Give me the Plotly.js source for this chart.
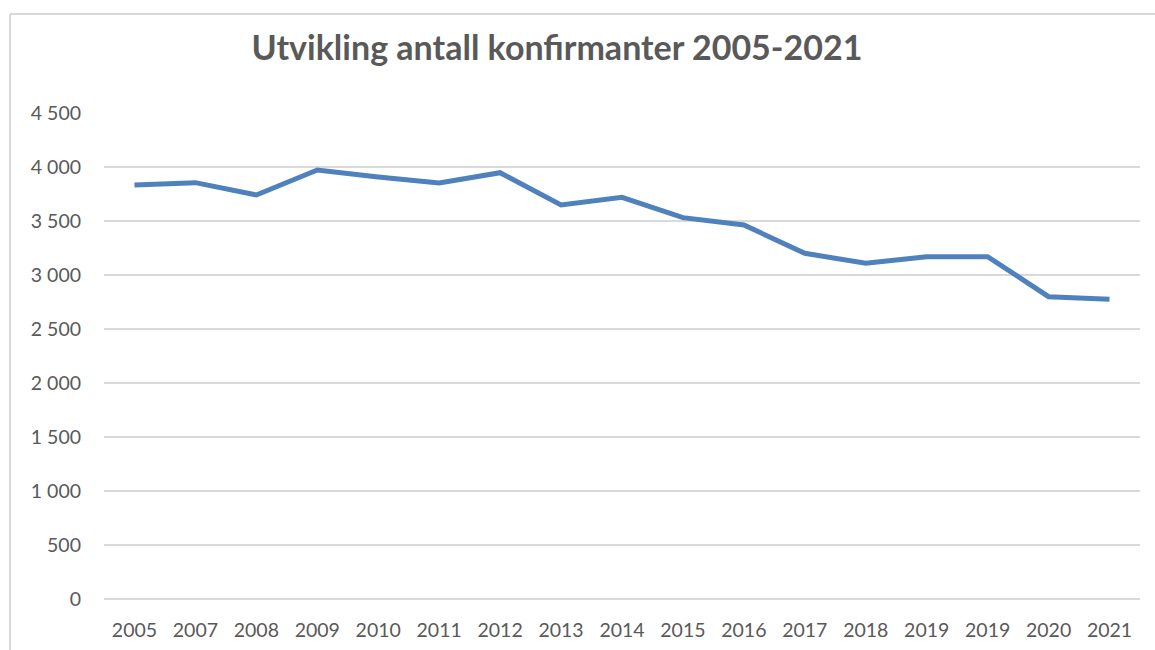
<!DOCTYPE html>
<html>
<head>
<meta charset="utf-8">
<script src="https://cdn.plot.ly/plotly-3.0.1.min.js"></script>
<style>
html,body{margin:0;padding:0;background:#fff;}
#chart{width:1155px;height:650px;}
</style>
</head>
<body>
<div id="chart"></div>
<script>
const years = ["2005","2007","2008","2009","2010","2011","2012","2013","2014","2015","2016","2017","2018","2019","2019","2020","2021"];
const confirmands = [3833,3855,3741,3972,3907,3852,3947,3648,3719,3531,3463,3201,3108,3170,3170,2799,2775];
const yTicks = [0,500,1000,1500,2000,2500,3000,3500,4000,4500];
const chartTitle = "Utvikling antall konfirmanter 2005-2021";

const positions = years.map((_, i) => i);

const trace = {
  x: positions,
  y: confirmands,
  type: 'scatter',
  mode: 'lines',
  line: {color: '#4F81BD', width: 5, shape: 'linear'},
  hoverinfo: 'x+y'
};

const L = 104, R = 1140, T = 113, B = 599, W = 1155, H = 650;
const pw = R - L, ph = B - T;

const layout = {
  width: W, height: H,
  margin: {l: L, r: W - R, t: T, b: H - B, pad: 0},
  paper_bgcolor: '#ffffff',
  plot_bgcolor: '#ffffff',
  separators: ', ',
  showlegend: false,
  font: {family: 'Lato, "Open Sans", sans-serif', color: '#595959', size: 19},
  title: {
    text: '<b>' + chartTitle + '</b>',
    x: (557) / W, xanchor: 'center', xref: 'container',
    y: 1 - 48 / H, yanchor: 'middle', yref: 'container',
    font: {family: 'Lato, "Open Sans", sans-serif', size: 34, color: '#595959'}
  },
  xaxis: {
    range: [-0.5, years.length - 0.5],
    tickmode: 'array',
    tickvals: positions,
    ticktext: years,
    showgrid: false,
    zeroline: false,
    showline: false,
    ticks: '',
    ticklabelstandoff: 17,
    tickfont: {size: 19.5, color: '#595959'},
    fixedrange: true
  },
  yaxis: {
    range: [0, 4500],
    tickmode: 'array',
    tickvals: yTicks,
    tickformat: ',d',
    showgrid: true,
    gridcolor: '#d9d9d9',
    gridwidth: 2,
    zeroline: true,
    zerolinecolor: '#d9d9d9',
    zerolinewidth: 2,
    showline: false,
    ticks: '',
    ticklabelstandoff: 22,
    tickfont: {size: 19.5, color: '#595959'},
    fixedrange: true
  },
  shapes: [
    {type: 'line', xref: 'paper', yref: 'paper',
     x0: (10 - L) / pw, x1: (W + 5 - L) / pw,
     y0: (B - 14) / ph, y1: (B - 14) / ph,
     line: {color: '#d9d9d9', width: 2}},
    {type: 'line', xref: 'paper', yref: 'paper',
     x0: (10 - L) / pw, x1: (10 - L) / pw,
     y0: (B - 14) / ph, y1: (B - H - 5) / ph,
     line: {color: '#d9d9d9', width: 2}}
  ]
};

Plotly.newPlot('chart', [trace], layout, {displayModeBar: false, responsive: false});
</script>
</body>
</html>
